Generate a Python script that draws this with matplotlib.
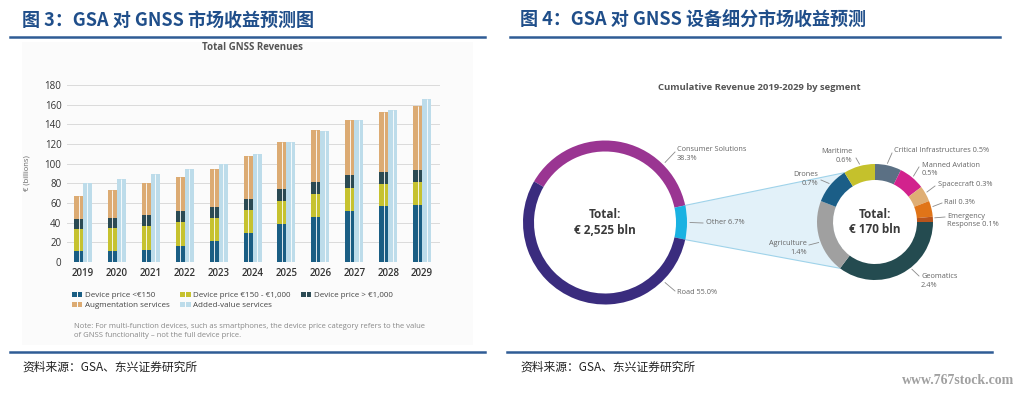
import matplotlib
matplotlib.use("Agg")
import matplotlib.pyplot as plt
from matplotlib.patches import Rectangle, Polygon, Circle
from matplotlib.legend_handler import HandlerTuple
import numpy as np

plt.rcParams['font.family'] = ['Open Sans', 'Noto Sans CJK SC', 'DejaVu Sans']

W, H = 1034, 393

# ---- data: total GNSS revenues (EUR bn) ----
years = ['2019', '2020', '2021', '2022', '2023', '2024', '2025', '2026', '2027', '2028', '2029']
dev_low = [11, 11, 12.5, 16, 21.5, 29.5, 38.5, 46, 52, 56.5, 57.5]
dev_mid = [23, 23.5, 24.5, 24.5, 23, 23, 23.5, 23.5, 23.5, 22.5, 24]
dev_high = [9.5, 10, 11, 11, 11.5, 12, 12, 12, 12.5, 12.5, 12.5]
augment = [23.5, 29, 32.5, 35, 39, 43.5, 48, 52.5, 56.5, 61.5, 65]
added_value = [80, 84, 89.5, 95, 100, 110, 122, 133.5, 144.5, 155, 166]
bar_series = ['Device price <€150', 'Device price €150 - €1,000', 'Device price > €1,000',
              'Augmentation services', 'Added-value services']
bar_colors = ['#1a5e84', '#c6c22f', '#2b4a53', '#dcab73', '#bddcea']
y_ticks = [0, 20, 40, 60, 80, 100, 120, 140, 160, 180]

# ---- data: cumulative revenue by segment ----
seg_names = ['Consumer Solutions', 'Other', 'Road']
seg_share = [38.3, 6.7, 55.0]
seg_colors = ['#9a3592', '#19b2e2', '#3a2c7e']

other_names = ['Critical Infrastructures', 'Manned Aviation', 'Spacecraft', 'Rail',
               'Emergency Response', 'Geomatics', 'Agriculture', 'Drones', 'Maritime']
other_share = [0.5, 0.5, 0.3, 0.3, 0.1, 2.4, 1.4, 0.7, 0.6]
other_colors = ['#5b7084', '#d2228d', '#dfae74', '#e07418', '#b8541c',
                '#244b50', '#a0a0a0', '#1b5e87', '#c5c12c']


def fx(px):
    return px / W


def fy(py):
    return 1 - py / H


fig = plt.figure(figsize=(W / 100, H / 100), dpi=100)
fig.patch.set_facecolor('white')

title_kw = dict(family=['Noto Sans CJK SC', 'DejaVu Sans'], weight='bold', color='#1f4e8a', fontsize=13)
src_kw = dict(family=['Noto Sans CJK SC', 'DejaVu Sans'], color='#222222', fontsize=8.5, style='italic')
line_col = '#2f5c95'

# faint panel background of the left picture
fig.patches.append(Rectangle((fx(22), fy(345)), fx(451), 303 / H, transform=fig.transFigure,
                             facecolor='#fbfbfb', edgecolor='none', zorder=-5))

fig.text(fx(22), fy(20), '图 3：GSA 对 GNSS 市场收益预测图', va='center', ha='left', **title_kw)
fig.text(fx(520), fy(20), '图 4：GSA 对 GNSS 设备细分市场收益预测', va='center', ha='left', **title_kw)
fig.add_artist(plt.Line2D([fx(10), fx(485)], [fy(37), fy(37)], color=line_col, lw=1.8))
fig.add_artist(plt.Line2D([fx(510), fx(1000)], [fy(37), fy(37)], color=line_col, lw=1.8))
fig.add_artist(plt.Line2D([fx(10), fx(485)], [fy(352), fy(352)], color=line_col, lw=1.8))
fig.add_artist(plt.Line2D([fx(507), fx(992)], [fy(352), fy(352)], color=line_col, lw=1.8))
fig.text(fx(22), fy(367), '资料来源：GSA、东兴证券研究所', va='center', ha='left', **src_kw)
fig.text(fx(520), fy(367), '资料来源：GSA、东兴证券研究所', va='center', ha='left', **src_kw)
fig.text(fx(1014), fy(381), 'www.767stock.com', va='center', ha='right',
         family='Liberation Serif', weight='bold', color='#a0a0a0', fontsize=10)

# ---- bar chart ----
fig.text(fx(252), fy(48), 'Total GNSS Revenues', ha='center', va='center',
         weight='bold', color='#555555', fontsize=7)
ax = fig.add_axes([fx(67), fy(262), 373 / W, 177 / H])
ax.set_facecolor('none')
x = np.arange(len(years))
bw = 0.265
xs = x - bw / 2
bottom = np.zeros(len(years))
for vals, col in zip([dev_low, dev_mid, dev_high, augment], bar_colors[:4]):
    ax.bar(xs, vals, bw, bottom=bottom, color=col, edgecolor='none', zorder=2)
    bottom += np.array(vals)
xa = x + bw / 2
ax.bar(xa, added_value, bw, color=bar_colors[4], edgecolor='none', zorder=2)
# thin white split inside each bar
ax.vlines(xs, 0, bottom, color='white', lw=0.6, zorder=3)
ax.vlines(xa, 0, added_value, color='white', lw=0.6, zorder=3)

ax.set_xlim(-0.472, 10.53)
ax.set_ylim(0, 180)
ax.set_yticks(y_ticks)
ax.set_xticks(x)
ax.set_xticklabels(years, fontsize=7, weight='semibold', color='#333333')
ax.tick_params(axis='y', length=0, pad=4, labelsize=7, labelcolor='#333333')
ax.tick_params(axis='x', length=0, pad=4)
ax.yaxis.grid(True, color='#dadada', lw=0.7, zorder=0)
for s in ax.spines.values():
    s.set_visible(False)
ax.set_ylabel('€ (billions)', fontsize=5.5, color='#666666', labelpad=10)

handles = []
for col in bar_colors:
    p1 = Rectangle((0, 0), 1, 1, facecolor=col, edgecolor='none')
    p2 = Rectangle((0, 0), 1, 1, facecolor=col, edgecolor='none')
    handles.append((p1, p2))
order = [0, 3, 1, 4, 2]
leg = fig.legend([handles[i] for i in order], [bar_series[i] for i in order],
                 handler_map={tuple: HandlerTuple(ndivide=None, pad=0.15)},
                 loc='upper left', bbox_to_anchor=(fx(72), fy(292)), bbox_transform=fig.transFigure,
                 ncol=3, frameon=False, fontsize=5.8, borderpad=0, borderaxespad=0,
                 handlelength=1.3, handleheight=0.55, handletextpad=0.3,
                 columnspacing=1.3, labelspacing=0.35)
for t in leg.get_texts():
    t.set_color('#444444')

fig.text(fx(74), fy(331), 'Note: For multi-function devices, such as smartphones, the device price category refers to the value\n'
         'of GNSS functionality – not the full device price.', ha='left', va='center',
         fontsize=5.5, color='#888888', linespacing=1.35)

# ---- donut charts ----
ov = fig.add_axes([0, 0, 1, 1])
ov.set_facecolor('none')

c1 = (605, H - 222.5)
r1, w1 = 82, 11
c2 = (875, H - 222)
r2, w2 = 58, 16

start1 = 360 * (seg_share[0] + seg_share[1] / 2) / sum(seg_share)
ov.pie(seg_share, colors=seg_colors, startangle=start1, counterclock=False, center=c1, radius=r1,
       wedgeprops=dict(width=w1, edgecolor='none'), frame=True)
ov.pie(other_share, colors=other_colors, startangle=90, counterclock=False, center=c2, radius=r2,
       wedgeprops=dict(width=w2, edgecolor='none'), frame=True)

# zoom connector from the "Other" wedge to the second ring
half_other = 180 * seg_share[1] / sum(seg_share)
tot2 = sum(other_share)
ang_top = 90 + 360 * other_share[-1] / tot2
ang_bot = 90 - 360 * sum(other_share[:6]) / tot2


def ring_pt(c, r, ang):
    return (c[0] + r * np.cos(np.radians(ang)), c[1] + r * np.sin(np.radians(ang)))


poly = Polygon([ring_pt(c1, r1, half_other), ring_pt(c2, r2, ang_top),
                ring_pt(c2, r2, ang_bot), ring_pt(c1, r1, -half_other)],
               closed=True, facecolor='#e2f1f9', edgecolor='#9fd3ea', lw=0.8, zorder=0)
ov.add_patch(poly)
# keep the hole of the second ring white
ov.add_patch(Circle(c2, r2 - w2, facecolor='white', edgecolor='none', zorder=0.5))

ov.set_xlim(0, W)
ov.set_ylim(0, H)
ov.set_aspect('auto')
ov.axis('off')

ov.text(658, H - 88, 'Cumulative Revenue 2019-2029 by segment', ha='left', va='center',
        weight='bold', color='#555555', fontsize=6.8)
ov.text(c1[0], c1[1], 'Total:\n€ 2,525 bln', ha='center', va='center', weight='bold',
        color='#3a3a3a', fontsize=8.5, linespacing=1.25)
ov.text(c2[0], c2[1], 'Total:\n€ 170 bln', ha='center', va='center', weight='bold',
        color='#3a3a3a', fontsize=8.5, linespacing=1.25)

lab_kw = dict(fontsize=5.3, color='#666666', va='center', linespacing=1.3)
lead_kw = dict(color='#8a8a8a', lw=0.6)

# (text, text x, text y, ha, leader angle, leader end x, leader end y) in pixel layout
labels1 = [('Consumer Solutions\n38.3%', 677, 154, 'left', 45, 675, 152),
           ('Other 6.7%', 706, 223, 'left', 0, 703, 223),
           ('Road 55.0%', 677, 292, 'left', -45, 675, 291)]
for txt, tx, ty, ha, ang, ex, ey in labels1:
    sx, sy = ring_pt(c1, r1 + 3, ang)
    ov.plot([sx, ex], [sy, H - ey], **lead_kw)
    ov.text(tx, H - ty, txt, ha=ha, **lab_kw)

labels2 = [('Critical Infrastructures 0.5%', 894, 151, 'left', 78, 892, 153),
           ('Manned Aviation\n0.5%', 922, 169.5, 'left', 50, 919, 167),
           ('Spacecraft 0.3%', 938, 185, 'left', 30, 935, 186),
           ('Rail 0.3%', 944, 203, 'left', 15, 942, 203),
           ('Emergency\nResponse 0.1%', 947, 220.5, 'left', 4, 945, 217),
           ('Geomatics\n2.4%', 921, 281, 'left', -52, 919, 276),
           ('Agriculture\n1.4%', 807, 248, 'right', 200, 809, 245),
           ('Drones\n0.7%', 818, 179, 'right', 140, 821, 180),
           ('Maritime\n0.6%', 852, 156, 'right', 105, 856, 158)]
for txt, tx, ty, ha, ang, ex, ey in labels2:
    sx, sy = ring_pt(c2, r2 + 2, ang)
    ov.plot([sx, ex], [sy, H - ey], **lead_kw)
    ov.text(tx, H - ty, txt, ha=ha, **lab_kw)

fig.savefig('out.png', dpi=100, facecolor='white')
